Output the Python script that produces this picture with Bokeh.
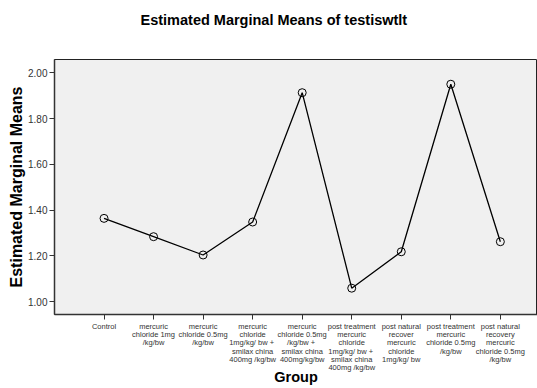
from bokeh.plotting import figure
from bokeh.models import FixedTicker, Range1d, NumeralTickFormatter, Title
from bokeh.embed import file_html
from bokeh.resources import INLINE

title_text = "Estimated Marginal Means of testiswtlt"
groups = [
    "Control",
    "mercuric\nchloride 1mg\n/kg/bw",
    "mercuric\nchloride 0.5mg\n/kg/bw",
    "mercuric\nchloride\n1mg/kg/ bw  +\nsmilax china\n400mg /kg/bw",
    "mercuric\nchloride 0.5mg\n/kg/bw  +\nsmilax china\n400mg/kg/bw",
    "post treatment\nmercuric\nchloride\n1mg/kg/ bw  +\nsmilax china\n400mg /kg/bw",
    "post natural\nrecover\nmercuric\nchloride\n1mg/kg/ bw",
    "post treatment\nmercuric\nchloride 0.5mg\n/kg/bw",
    "post natural\nrecovery\nmercuric\nchloride 0.5mg\n/kg/bw",
]
means = [1.364, 1.284, 1.204, 1.348, 1.913, 1.059, 1.218, 1.950, 1.262]
y_ticks = [1.0, 1.2, 1.4, 1.6, 1.8, 2.0]

xs = list(range(len(groups)))

p = figure(width=537, height=388, output_backend="svg", toolbar_location=None,
           title=None,
           x_range=Range1d(-1, 8.75), y_range=Range1d(0.944, 2.058),
           min_border_left=54, min_border_right=0, min_border_top=0, min_border_bottom=0)

# spacer (inner) and real title (outer)
p.add_layout(Title(text=" ", text_font_size="1px", standoff=20), "above")
p.add_layout(Title(text=title_text, text_font="Liberation Sans", text_font_size="14.5px",
                   text_font_style="bold", text_color="black", align="left",
                   offset=86, standoff=18), "above")

p.background_fill_color = "#f0f0f0"
p.border_fill_color = "white"
p.outline_line_color = "#222222"
p.outline_line_width = 1
p.xgrid.visible = False
p.ygrid.visible = False

for ax in (p.xaxis[0], p.yaxis[0]):
    ax.axis_line_color = "#333333"
    ax.axis_line_width = 1.5
    ax.major_tick_line_color = "#333333"
    ax.major_tick_in = 0
    ax.major_tick_out = 5
    ax.minor_tick_line_color = None
    ax.major_label_text_color = "#333333"
    ax.major_label_text_font = "Liberation Sans"
    ax.axis_label_text_font = "Liberation Sans"
    ax.axis_label_text_font_style = "bold"
    ax.axis_label_text_color = "black"

p.yaxis.ticker = FixedTicker(ticks=y_ticks)
p.yaxis.formatter = NumeralTickFormatter(format="0.00")
p.yaxis.major_label_text_font_size = "10px"
p.yaxis.major_label_standoff = 2
p.yaxis.axis_label = "Estimated Marginal Means"
p.yaxis.axis_label_text_font_size = "16px"
p.yaxis.axis_label_standoff = 0

p.xaxis.ticker = FixedTicker(ticks=xs)
p.xaxis.major_label_overrides = {i: g for i, g in enumerate(groups)}
p.xaxis.major_label_text_font_size = "7.5px"
p.xaxis.major_label_text_line_height = 0.93
p.xaxis.major_label_standoff = 2
p.xaxis.axis_label = "Group"
p.xaxis.axis_label_text_font_size = "14.5px"
p.xaxis.axis_label_standoff = -6

p.line(xs, means, line_color="black", line_width=1.3)
p.scatter(xs, means, marker="circle", size=8, fill_color=None,
          line_color="black", line_width=1)

open("out.html", "w").write(file_html(p, INLINE))
